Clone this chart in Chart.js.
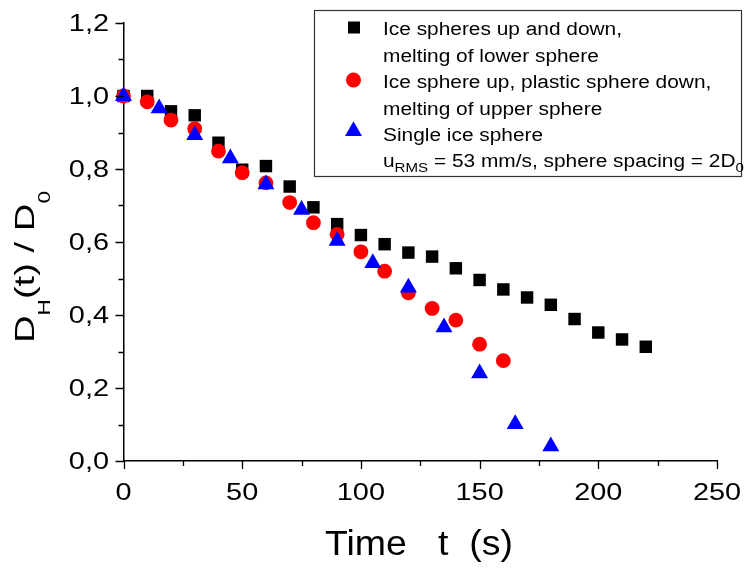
<!DOCTYPE html>
<html>
<head>
<meta charset="utf-8">
<script src="https://cdn.jsdelivr.net/npm/chart.js@4.4.0/dist/chart.umd.min.js"></script>
<style>
  body { margin: 0; background: #fff; }
</style>
</head>
<body>
<canvas id="myChart" width="747" height="568"></canvas>
<script>
// data
const timeUpDown = [0, 10, 20, 30, 40, 50, 60, 70, 80, 90, 100, 110, 120, 130, 140, 150, 160, 170, 180, 190, 200, 210, 220];
const ratioUpDown = [1.0, 1.0, 0.958, 0.947, 0.872, 0.798, 0.808, 0.752, 0.695, 0.649, 0.619, 0.594, 0.571, 0.56, 0.528, 0.496, 0.47, 0.448, 0.428, 0.389, 0.352, 0.333, 0.313];

const timePlastic = [0, 10, 20, 30, 40, 50, 60, 70, 80, 90, 100, 110, 120, 130, 140, 150, 160];
const ratioPlastic = [1.0, 0.984, 0.934, 0.91, 0.849, 0.79, 0.762, 0.708, 0.653, 0.621, 0.573, 0.52, 0.461, 0.418, 0.386, 0.32, 0.275];

const timeSingle = [0, 15, 30, 45, 60, 75, 90, 105, 120, 135, 150, 165, 180];
const ratioSingle = [1.0, 0.966, 0.893, 0.829, 0.758, 0.688, 0.603, 0.542, 0.475, 0.366, 0.24, 0.101, 0.04];

const xTicks = [0, 50, 100, 150, 200, 250];
const yTicks = [0, 0.2, 0.4, 0.6, 0.8, 1.0, 1.2];

const legendLines = [
    [{ t: 'Ice spheres up and down,' }],
    [{ t: 'melting of lower sphere' }],
    [{ t: 'Ice sphere up, plastic sphere down,' }],
    [{ t: 'melting of upper sphere' }],
    [{ t: 'Single ice sphere' }],
    [{ t: 'u' }, { t: 'RMS', sub: true }, { t: ' = 53 mm/s, sphere spacing = 2D' }, { t: '0', sub: true }]
];
const yTitle = [{ t: 'D' }, { t: 'H', sub: true }, { t: '(t) / D' }, { t: '0', sub: true }];
const xTitle = 'Time   t  (s)';

function pts(xs, ys) {
    var out = [];
    for (var i = 0; i < xs.length; i++) out.push({ x: xs[i], y: ys[i] });
    return out;
}

const FONT = '"Liberation Sans", Arial, sans-serif';

// text with subscripts, stretched along the baseline like the original figure
function richWidth(ctx, parts, size, subSize) {
    var w = 0;
    for (var i = 0; i < parts.length; i++) {
        ctx.font = (parts[i].sub ? subSize : size) + 'px ' + FONT;
        w += ctx.measureText(parts[i].t).width;
    }
    return w;
}
function drawRich(ctx, parts, size, subSize, subDrop, sx) {
    ctx.save();
    ctx.scale(sx, 1);
    var x = 0;
    for (var i = 0; i < parts.length; i++) {
        ctx.font = (parts[i].sub ? subSize : size) + 'px ' + FONT;
        ctx.fillText(parts[i].t, x, parts[i].sub ? subDrop : 0);
        x += ctx.measureText(parts[i].t).width;
    }
    ctx.restore();
}

const decorations = {
    id: 'decorations',
    afterDraw: function (chart) {
        var ctx = chart.ctx;
        var xs = chart.scales.x, ys = chart.scales.y;
        var area = chart.chartArea;
        ctx.save();
        ctx.strokeStyle = '#000';
        ctx.fillStyle = '#000';
        ctx.lineWidth = 1.3;

        // tick marks, major and minor
        ctx.beginPath();
        for (var v = 0; v <= 250; v += 25) {
            var px = Math.round(xs.getPixelForValue(v)) + 0.5;
            ctx.moveTo(px, area.bottom);
            ctx.lineTo(px, area.bottom + (v % 50 === 0 ? 8 : 5));
        }
        for (var k = 0; k <= 12; k++) {
            var py = Math.round(ys.getPixelForValue(k / 10)) + 0.5;
            ctx.moveTo(area.left, py);
            ctx.lineTo(area.left - (k % 2 === 0 ? 8 : 5), py);
        }
        ctx.stroke();

        // tick labels
        ctx.textBaseline = 'alphabetic';
        ctx.font = '24.5px ' + FONT;
        xTicks.forEach(function (t) {
            var label = String(t);
            var w = ctx.measureText(label).width * 1.18;
            ctx.save();
            ctx.translate(xs.getPixelForValue(t) - w / 2, area.bottom + 38.5);
            ctx.scale(1.18, 1);
            ctx.fillText(label, 0, 0);
            ctx.restore();
        });
        yTicks.forEach(function (t) {
            var label = t.toFixed(1).replace('.', ',');
            var w = ctx.measureText(label).width * 1.18;
            ctx.save();
            ctx.translate(109 - w, ys.getPixelForValue(t) + 7.5);
            ctx.scale(1.18, 1);
            ctx.fillText(label, 0, 0);
            ctx.restore();
        });

        // x title
        ctx.font = '35px ' + FONT;
        var xsx = 188 / ctx.measureText(xTitle).width;
        ctx.save();
        ctx.translate(325, 555);
        ctx.scale(xsx, 1);
        ctx.fillText(xTitle, 0, 0);
        ctx.restore();

        // y title, rotated
        var ysx = 152 / richWidth(ctx, yTitle, 28, 16.5);
        ctx.save();
        ctx.translate(34, 343);
        ctx.rotate(-Math.PI / 2);
        drawRich(ctx, yTitle, 28, 16.5, 16, ysx);
        ctx.restore();

        // legend box
        ctx.fillStyle = '#fff';
        ctx.fillRect(314, 10, 428, 166);
        ctx.strokeStyle = '#333';
        ctx.lineWidth = 1.2;
        ctx.strokeRect(314.5, 10.5, 427, 166);

        // legend markers
        ctx.fillStyle = '#000';
        ctx.fillRect(348, 21.5, 12, 12);
        ctx.fillStyle = '#ff0000';
        ctx.beginPath();
        ctx.arc(353.5, 80, 7.5, 0, Math.PI * 2);
        ctx.fill();
        ctx.fillStyle = '#0000ff';
        ctx.beginPath();
        var r = 9.8;
        ctx.moveTo(353.5, 131 - r);
        ctx.lineTo(353.5 + r * 0.866, 131 + r / 2);
        ctx.lineTo(353.5 - r * 0.866, 131 + r / 2);
        ctx.closePath();
        ctx.fill();

        // legend text
        ctx.fillStyle = '#000';
        ctx.font = '18px ' + FONT;
        var lsx = 239 / ctx.measureText('Ice spheres up and down,').width;
        var baselines = [35, 61.5, 88, 114.5, 141, 167];
        legendLines.forEach(function (parts, i) {
            ctx.save();
            ctx.translate(383, baselines[i]);
            drawRich(ctx, parts, 18, 13, 4.5, lsx);
            ctx.restore();
        });
        ctx.restore();
    }
};

var ctx = document.getElementById('myChart');
var chart = new Chart(ctx, {
    type: 'scatter',
    data: {
        datasets: [
            {
                label: 'Ice spheres up and down, melting of lower sphere',
                data: pts(timeUpDown, ratioUpDown),
                pointStyle: 'rect',
                pointRadius: 8.8,
                pointHoverRadius: 8.8,
                backgroundColor: '#000',
                borderColor: '#000',
                borderWidth: 0,
                order: 3,
                clip: false
            },
            {
                label: 'Ice sphere up, plastic sphere down, melting of upper sphere',
                data: pts(timePlastic, ratioPlastic),
                pointStyle: 'circle',
                pointRadius: 7.4,
                pointHoverRadius: 7.4,
                backgroundColor: '#ff0000',
                borderColor: '#ff0000',
                borderWidth: 0,
                order: 2,
                clip: false
            },
            {
                label: 'Single ice sphere',
                data: pts(timeSingle, ratioSingle),
                pointStyle: 'triangle',
                pointRadius: 9.8,
                pointHoverRadius: 9.8,
                backgroundColor: '#0000ff',
                borderColor: '#0000ff',
                borderWidth: 0,
                order: 1,
                clip: false
            }
        ]
    },
    options: {
        responsive: false,
        animation: false,
        layout: { padding: { top: 23, right: 30, left: 0, bottom: 0 } },
        plugins: {
            legend: { display: false },
            tooltip: { enabled: false }
        },
        scales: {
            x: {
                type: 'linear',
                min: 0,
                max: 250,
                grid: { display: false },
                border: { display: true, color: '#000', width: 1.5 },
                ticks: { display: false, stepSize: 50 },
                afterFit: function (s) { s.height = 107; }
            },
            y: {
                type: 'linear',
                min: 0,
                max: 1.2,
                grid: { display: false },
                border: { display: true, color: '#000', width: 1.5 },
                ticks: { display: false, stepSize: 0.2 },
                afterFit: function (s) { s.width = 123.5; }
            }
        }
    },
    plugins: [decorations]
});
</script>
</body>
</html>
